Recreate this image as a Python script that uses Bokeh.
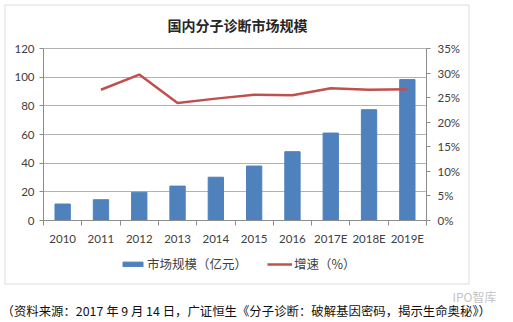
from bokeh.plotting import figure
from bokeh.models import (Range1d, LinearAxis, FixedTicker, NumeralTickFormatter,
                          Label, BoxAnnotation, Legend, LegendItem, Grid)
from bokeh.embed import file_html
from bokeh.resources import INLINE

# ---- data ----
years = ["2010", "2011", "2012", "2013", "2014", "2015", "2016", "2017E", "2018E", "2019E"]
market_size = [11.5, 14.5, 19.7, 24.0, 30.2, 38.0, 48.0, 61.0, 77.3, 98.3]   # 亿元
growth_years = ["2011", "2012", "2013", "2014", "2015", "2016", "2017E", "2018E", "2019E"]
growth = [0.266, 0.297, 0.239, 0.248, 0.256, 0.255, 0.269, 0.266, 0.267]
left_ticks = [0, 20, 40, 60, 80, 100, 120]
right_ticks = [0, 0.05, 0.10, 0.15, 0.20, 0.25, 0.30, 0.35]

title_text = "国内分子诊断市场规模"
legend_bar = "市场规模（亿元）"
legend_line = "增速（%）"
caption = "（资料来源：2017 年 9 月 14 日，广证恒生《分子诊断：破解基因密码，揭示生命奥秘》）"
watermark = "IPO智库"

# ---- layout (pixels) ----
W, H = 513, 322
PL, PR, PT, PB = 43, 426, 48, 220      # plot-area edges inside the canvas
NCAT = len(years)
YMAX, PMAX = 120.0, 0.35

xs = NCAT / (PR - PL)                  # data units per pixel (x)
ys = YMAX / (PB - PT)                  # data units per pixel (y)

def dx(px):
    return 0.5 + (px - PL) * xs

def dy(py):
    return (PB - py) * ys

x_range = Range1d(dx(0), dx(W))
y_range = Range1d(dy(H), dy(0))
pct_range = Range1d(dy(H) * PMAX / YMAX, dy(0) * PMAX / YMAX)

xpos = list(range(1, NCAT + 1))
gx = [years.index(g) + 1 for g in growth_years]

p = figure(width=W, height=H, output_backend="svg", toolbar_location=None,
           x_range=x_range, y_range=y_range, x_axis_location=None, y_axis_location=None,
           min_border=0)
p.min_border_left = p.min_border_right = p.min_border_top = p.min_border_bottom = 0
p.outline_line_color = None
p.background_fill_color = "white"
p.border_fill_color = "white"
p.extra_y_ranges = {"pct": pct_range}
p.grid.visible = False

AXIS_COLOR = "#8c8c8c"
GRID_COLOR = "#b3b3b3"
LABEL_COLOR = "#404040"
TICK_FONT = "Lato"
CJK = "Noto Sans CJK SC"

# horizontal grid lines limited to the plot area
if "cross_bounds" in Grid.properties():
    grid = Grid(dimension=1, ticker=FixedTicker(ticks=left_ticks[1:]),
                cross_bounds=(0.5, NCAT + 0.5), grid_line_color=GRID_COLOR)
    p.add_layout(grid)
else:
    p.segment(x0=[0.5] * (len(left_ticks) - 1), x1=[NCAT + 0.5] * (len(left_ticks) - 1),
              y0=left_ticks[1:], y1=left_ticks[1:], line_color=GRID_COLOR, line_width=1)

# bars and line
bars = p.vbar(x=xpos, top=market_size, width=0.4, color="#4F81BD")
line = p.line(x=gx, y=growth, y_range_name="pct", color="#C0504D", line_width=2.5)

def style_axis(ax):
    ax.axis_line_color = AXIS_COLOR
    ax.major_tick_line_color = AXIS_COLOR
    ax.major_tick_out = 4
    ax.major_tick_in = 0
    ax.minor_tick_line_color = None
    ax.major_label_text_font = TICK_FONT
    ax.major_label_text_font_size = "11.5px"
    ax.major_label_text_color = LABEL_COLOR

# left axis
la = LinearAxis(ticker=FixedTicker(ticks=left_ticks), fixed_location=0.5, bounds=(0, YMAX))
style_axis(la)
la.major_label_standoff = 5
p.add_layout(la, "left")

# right axis
ra = LinearAxis(y_range_name="pct", ticker=FixedTicker(ticks=right_ticks),
                formatter=NumeralTickFormatter(format="0%"),
                fixed_location=NCAT + 0.5, bounds=(0, PMAX))
style_axis(ra)
ra.major_label_standoff = 7
p.add_layout(ra, "right")

# bottom axis: labels at centers, tick marks between categories
ba = LinearAxis(ticker=FixedTicker(ticks=xpos, minor_ticks=[i + 0.5 for i in range(NCAT + 1)]),
                fixed_location=0, bounds=(0.5, NCAT + 0.5))
style_axis(ba)
ba.major_label_overrides = {i + 1: y for i, y in enumerate(years)}
ba.major_tick_line_color = None
ba.minor_tick_line_color = AXIS_COLOR
ba.minor_tick_out = 5
ba.minor_tick_in = 0
ba.major_label_standoff = 6
p.add_layout(ba, "below")

# outer chart border
p.add_layout(BoxAnnotation(left=dx(4.5), right=dx(468.5), top=dy(4.5), bottom=dy(283.5),
                           fill_alpha=0, line_color="#8c8c8c", line_width=1))

# title
p.add_layout(Label(x=dx(237), y=dy(24), text=title_text, text_align="center",
                   text_baseline="middle", text_font=CJK, text_font_size="14px",
                   text_font_style="bold", text_color="#262626"))

# legend
legend = Legend(items=[LegendItem(label=legend_bar, renderers=[bars]),
                       LegendItem(label=legend_line, renderers=[line])],
                orientation="horizontal", location=(120, H - 273),
                glyph_width=25, glyph_height=6, label_standoff=2, spacing=20,
                padding=0, margin=0, border_line_color=None,
                background_fill_alpha=0, label_text_font=CJK,
                label_text_font_size="12.5px", label_text_color=LABEL_COLOR)
p.add_layout(legend, "center")

# watermark
p.add_layout(Label(x=dx(452), y=dy(296), text=watermark, text_align="left",
                   text_baseline="middle", text_font=CJK, text_font_size="12px",
                   text_color="#c4c4c4"))

# caption
p.add_layout(Label(x=dx(1), y=dy(310), text=caption, text_align="left",
                   text_baseline="middle", text_font=CJK, text_font_size="12.4px",
                   text_color="#111111"))

open("out.html", "w").write(file_html(p, INLINE))
